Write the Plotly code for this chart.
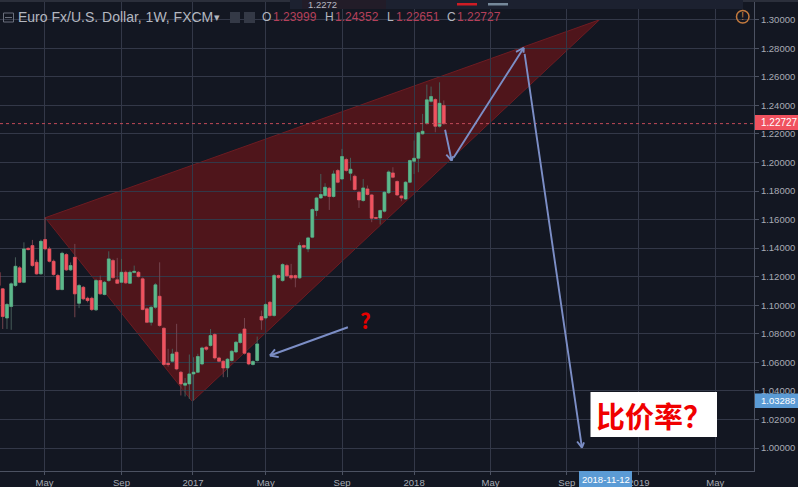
import numpy as np
import pandas as pd
import plotly.graph_objects as go

# weekly EURUSD candles
opens = [1.1231, 1.1115, 1.0911, 1.0991, 1.1138, 1.1262, 1.1161, 1.1399, 1.1418, 1.1301,
         1.1220, 1.1460, 1.1395, 1.1308, 1.1208, 1.1110, 1.1355, 1.1248, 1.1336, 1.1014,
         1.1126, 1.1049, 1.1049, 1.0968, 1.1173, 1.1075, 1.1173, 1.1313, 1.1178, 1.1161,
         1.1231, 1.1154, 1.1229, 1.1231, 1.1185, 1.0975, 1.0881, 1.0986, 1.1063, 1.0839,
         1.0594, 1.0608, 1.0671, 1.0531, 1.0440, 1.0449, 1.0519, 1.0531, 1.0589, 1.0706,
         1.0718, 1.0795, 1.0631, 1.0608, 1.0561, 1.0613, 1.0673, 1.0739, 1.0834, 1.0664,
         1.0585, 1.0613, 1.0921, 1.0911, 1.1021, 1.0928, 1.1208, 1.1173, 1.1278, 1.1208,
         1.1208, 1.1192, 1.1419, 1.1395, 1.1477, 1.1664, 1.1752, 1.1769, 1.1820, 1.1762,
         1.1944, 1.1885, 1.2021, 1.1925, 1.1904, 1.1792, 1.1734, 1.1815, 1.1773, 1.1615,
         1.1612, 1.1659, 1.1788, 1.1927, 1.1867, 1.1766, 1.1745, 1.1862, 1.2009, 1.2030,
         1.2201, 1.2275, 1.2429, 1.2441, 1.2254, 1.23999]
highs = [1.1243, 1.1120, 1.1015, 1.1160, 1.1336, 1.1275, 1.1441, 1.1405, 1.1458, 1.1320,
         1.1460, 1.1616, 1.1410, 1.1320, 1.1220, 1.1375, 1.1365, 1.1300, 1.1430, 1.1150,
         1.1135, 1.1060, 1.1060, 1.1185, 1.1208, 1.1170, 1.1378, 1.1325, 1.1332, 1.1325,
         1.1243, 1.1243, 1.1278, 1.1240, 1.1195, 1.0985, 1.0995, 1.1155, 1.1301, 1.0845,
         1.0695, 1.0695, 1.0870, 1.0540, 1.0490, 1.0655, 1.0636, 1.0660, 1.0710, 1.0715,
         1.0834, 1.0805, 1.0640, 1.0615, 1.0630, 1.0685, 1.0750, 1.0810, 1.0911, 1.0670,
         1.0615, 1.0781, 1.0963, 1.1015, 1.1030, 1.1220, 1.1215, 1.1295, 1.1290, 1.1290,
         1.1215, 1.1441, 1.1425, 1.1480, 1.1680, 1.1760, 1.1920, 1.1855, 1.1830, 1.1944,
         1.1955, 1.2096, 1.2033, 1.2033, 1.1915, 1.1800, 1.1885, 1.1839, 1.1780, 1.1620,
         1.1670, 1.1800, 1.1945, 1.1967, 1.1875, 1.1775, 1.1870, 1.2020, 1.2154, 1.2215,
         1.2341, 1.2546, 1.2532, 1.2450, 1.2562, 1.24352]
lows = [1.1115, 1.0834, 1.0834, 1.0828, 1.1130, 1.1155, 1.1155, 1.1385, 1.1270, 1.1215,
        1.1215, 1.1385, 1.1300, 1.1208, 1.1105, 1.1105, 1.1240, 1.1240, 1.0916, 1.0980,
        1.1035, 1.1020, 1.0960, 1.0960, 1.1075, 1.1070, 1.1165, 1.1185, 1.1150, 1.1155,
        1.1150, 1.1150, 1.1225, 1.1195, 1.0965, 1.0875, 1.0858, 1.0975, 1.0850, 1.0578,
        1.0570, 1.0600, 1.0545, 1.0368, 1.0361, 1.0344, 1.0333, 1.0525, 1.0580, 1.0680,
        1.0710, 1.0620, 1.0600, 1.0496, 1.0496, 1.0605, 1.0665, 1.0730, 1.0655, 1.0580,
        1.0578, 1.0605, 1.0828, 1.0900, 1.0920, 1.0920, 1.1185, 1.1165, 1.1200, 1.1180,
        1.1126, 1.1185, 1.1400, 1.1372, 1.1470, 1.1624, 1.1745, 1.1760, 1.1668, 1.1755,
        1.1855, 1.1878, 1.1935, 1.1874, 1.1805, 1.1682, 1.1725, 1.1770, 1.1582, 1.1605,
        1.1566, 1.1650, 1.1780, 1.1890, 1.1765, 1.1729, 1.1738, 1.1855, 1.1920, 1.1932,
        1.2195, 1.2265, 1.2420, 1.2212, 1.2245, 1.22651]
closes = [1.1138, 1.0921, 1.1005, 1.1150, 1.1273, 1.1161, 1.1395, 1.1390, 1.1278, 1.1220,
          1.1448, 1.1395, 1.1308, 1.1215, 1.1110, 1.1364, 1.1248, 1.1278, 1.1080, 1.1138,
          1.1045, 1.1033, 1.0970, 1.1173, 1.1080, 1.1161, 1.1325, 1.1194, 1.1154, 1.1231,
          1.1157, 1.1231, 1.1238, 1.1201, 1.0970, 1.0881, 1.0986, 1.1143, 1.0858, 1.0585,
          1.0585, 1.0659, 1.0554, 1.0449, 1.0454, 1.0519, 1.0531, 1.0641, 1.0701, 1.0692,
          1.0788, 1.0631, 1.0608, 1.0561, 1.0622, 1.0678, 1.0741, 1.0799, 1.0664, 1.0589,
          1.0606, 1.0729, 1.0897, 1.1005, 1.0928, 1.1208, 1.1194, 1.1285, 1.1206, 1.1192,
          1.1192, 1.1418, 1.1407, 1.1472, 1.1671, 1.1752, 1.1776, 1.1827, 1.1762, 1.1920,
          1.1862, 1.2042, 1.1944, 1.1953, 1.1811, 1.1738, 1.1822, 1.1776, 1.1610, 1.1610,
          1.1664, 1.1792, 1.1934, 1.1897, 1.1773, 1.1752, 1.1862, 1.2014, 1.2030, 1.2208,
          1.2219, 1.2439, 1.2462, 1.2254, 1.2415, 1.22727]
dates = pd.date_range(end="2018-02-19", periods=len(opens), freq="7D")

tick_dates = ["2016-05-01", "2016-09-05", "2017-01-01", "2017-05-01", "2017-09-04",
              "2018-01-01", "2018-05-07", "2018-09-10", "2019-01-07", "2019-05-13"]
tick_labels = ["May", "Sep", "2017", "May", "Sep", "2018", "May", "Sep", "2019", "May"]
price_ticks = [1.00 + 0.02 * i for i in range(16)]

wedge_dates = ["2016-05-02", "2018-11-03", "2016-12-31"]
wedge_prices = [1.1613, 1.3000, 1.0326]

# (tail, tip) of the hand drawn arrows
arrows = [
    (("2017-09-17", 1.0851), ("2017-05-08", 1.0648)),
    (("2018-02-19", 1.2272), ("2018-03-04", 1.2013)),
    (("2018-03-04", 1.2013), ("2018-07-01", 1.2804)),
    (("2018-07-01", 1.2804), ("2018-10-05", 1.0003)),
]

last_price = 1.22727
cross_price = 1.03288
cross_date = "2018-11-12"

BG = "#131722"
GRID = "#333848"
AXIS = "#4c5262"
TEXT = "#a8abb5"
GREEN = "#5cb98b"
RED = "#f0525f"
ARROW = "#7c8ec6"
FONT = "Liberation Sans"

W, H = 798, 487
PW, PH = 754, 471
x_range = ["2016-02-17 12:00", "2019-07-16"]
y_range = [1.0 - 23 / 1428, 1.30 + 19.8 / 1428]


def px(x):
    return x / PW


def py(y):
    return 1 - y / PH


def to_pixels(date, price):
    t0, t1 = pd.Timestamp(x_range[0]), pd.Timestamp(x_range[1])
    x = (pd.Timestamp(date) - t0) / (t1 - t0) * PW
    y = (y_range[1] - price) / (y_range[1] - y_range[0]) * PH
    return x, y


fig = go.Figure()

# wicks are dim in the original so they get their own trace under the bodies
fig.add_trace(go.Candlestick(x=dates, open=opens, high=highs, low=lows, close=closes,
                             whiskerwidth=0,
                             increasing=dict(line=dict(color="#465c58", width=1), fillcolor="#465c58"),
                             decreasing=dict(line=dict(color="#74434d", width=1), fillcolor="#74434d")))
body_top = np.maximum(opens, closes)
body_bottom = np.minimum(opens, closes)
fig.add_trace(go.Candlestick(x=dates, open=opens, high=body_top, low=body_bottom, close=closes,
                             whiskerwidth=0,
                             increasing=dict(line=dict(color=GREEN, width=0.5), fillcolor=GREEN),
                             decreasing=dict(line=dict(color=RED, width=0.5), fillcolor=RED)))

# scatter traces sit above boxes, so the wedge has to be a shape under the traces
wedge_path = "M " + " L ".join(f"{d},{p}" for d, p in zip(wedge_dates, wedge_prices)) + " Z"

shapes = [
    dict(type="path", xref="x", yref="y", path=wedge_path, layer="below",
         fillcolor="rgba(120,20,24,0.6)", line=dict(color="#6d1c22", width=1)),
    dict(type="line", xref="paper", x0=0, x1=1, yref="y", y0=last_price, y1=last_price,
         line=dict(color="#c04a58", width=1, dash="dot")),
    # top strip and the clipped toolbar box
    dict(type="rect", xref="paper", yref="paper", x0=0, x1=px(W), y0=py(2), y1=py(0),
         fillcolor="#2b2f3b", line_width=0),
    dict(type="rect", xref="paper", yref="paper", x0=px(290), x1=px(743), y0=py(9), y1=py(0),
         fillcolor="#1c2130", line_width=0),
    dict(type="rect", xref="paper", yref="paper", x0=px(302), x1=px(386), y0=py(9), y1=py(0),
         fillcolor="#221c28", line_width=0),
    dict(type="rect", xref="paper", yref="paper", x0=px(457), x1=px(477), y0=py(5.5), y1=py(3),
         fillcolor="#d01c24", line_width=0),
    dict(type="rect", xref="paper", yref="paper", x0=px(488), x1=px(508), y0=py(5.5), y1=py(3),
         fillcolor="#75889a", line_width=0),
    # header icons
    dict(type="rect", xref="paper", yref="paper", x0=px(3.5), x1=px(13.5), y0=py(22), y1=py(13),
         line=dict(color="#6a6f7c", width=1)),
    dict(type="line", xref="paper", yref="paper", x0=px(5), x1=px(12), y0=py(17.5), y1=py(17.5),
         line=dict(color="#6a6f7c", width=1)),
    dict(type="rect", xref="paper", yref="paper", x0=px(230), x1=px(240), y0=py(23), y1=py(12),
         fillcolor="#343946", line_width=0),
    dict(type="rect", xref="paper", yref="paper", x0=px(244), x1=px(255), y0=py(23), y1=py(12),
         fillcolor="#343946", line_width=0),
    # warning icon
    dict(type="circle", xref="paper", yref="paper", x0=px(736.5), x1=px(749), y0=py(23), y1=py(10.5),
         line=dict(color="#c47a3e", width=1.5)),
    # white note
    dict(type="rect", xref="paper", yref="paper", x0=px(590.5), x1=px(717), y0=py(437), y1=py(392),
         fillcolor="white", line_width=0),
    # right scale labels
    dict(type="rect", xref="paper", yref="paper", x0=px(755), x1=px(W), y0=py(130), y1=py(115),
         fillcolor=RED, line_width=0),
    dict(type="rect", xref="paper", yref="paper", x0=px(755), x1=px(W), y0=py(408), y1=py(393.5),
         fillcolor="#5b9bd5", line_width=0),
    dict(type="rect", xref="paper", yref="paper", x0=px(579), x1=px(632), y0=py(H), y1=py(471),
         fillcolor="#5b9bd5", line_width=0),
]


def label(x, y, text, color=TEXT, size=9.5, anchor="left", family=FONT):
    return dict(xref="paper", yref="paper", x=px(x), y=py(y), text=text, showarrow=False,
                xanchor=anchor, yanchor="middle", borderpad=0,
                font=dict(family=family, size=size, color=color))


annotations = [
    label(17, 17.5, "Euro Fx/U.S. Dollar, 1W, FXCM", color="#b4b7c0", size=14),
    label(213, 17, "▾", color="#b4b7c0", size=11),
    label(322, 4.5, "1.2272", color="#b4b7c0", size=9.5, anchor="center"),
    label(261, 17.5, "O", color="#b4b7c0", size=12),
    label(272, 17.5, "1.23999", color="#b5405a", size=12),
    label(324, 17.5, "H", color="#b4b7c0", size=12),
    label(334, 17.5, "1.24352", color="#b5405a", size=12),
    label(386, 17.5, "L", color="#b4b7c0", size=12),
    label(395, 17.5, "1.22651", color="#b5405a", size=12),
    label(446, 17.5, "C", color="#b4b7c0", size=12),
    label(456, 17.5, "1.22727", color="#b5405a", size=12),
    label(742.7, 16.5, "!", color="#c47a3e", size=11, anchor="center"),
    label(365, 320, "<b>?</b>", color="#e60000", size=21, anchor="center", family="Noto Sans CJK SC"),
    label(654, 415, "<b>比价率？</b>", color="#f00000", size=29, anchor="center", family="Noto Sans CJK SC"),
    label(760, 122.5, f"{last_price:.5f}", color="white", size=10),
    label(760, 400.5, f"{cross_price:.5f}", color="white", size=9.5),
    label(605.5, 479.5, cross_date, color="white", size=9.5, anchor="center"),
]

for (tail_date, tail_price), (tip_date, tip_price) in arrows:
    annotations.append(dict(x=tip_date, y=tip_price, ax=tail_date, ay=tail_price,
                            xref="x", yref="y", axref="x", ayref="y", text=" ", borderpad=0,
                            showarrow=True, arrowhead=0, arrowwidth=1.9, arrowcolor=ARROW))
    tx, ty = to_pixels(tail_date, tail_price)
    hx, hy = to_pixels(tip_date, tip_price)
    angle = np.arctan2(ty - hy, tx - hx)
    for side in (-1, 1):
        a = angle + side * np.radians(30)
        annotations.append(dict(x=tip_date, y=tip_price, xref="x", yref="y",
                                ax=float(11 * np.cos(a)), ay=float(11 * np.sin(a)),
                                text=" ", borderpad=0, showarrow=True, arrowhead=0,
                                arrowwidth=1.9, arrowcolor=ARROW))

fig.update_layout(
    width=W, height=H,
    margin=dict(l=0, r=W - PW, t=0, b=H - PH),
    paper_bgcolor=BG, plot_bgcolor=BG,
    showlegend=False,
    boxmode="overlay",
    boxgap=0.05,
    shapes=shapes,
    annotations=annotations,
    font=dict(family=FONT, size=9.5, color=TEXT),
)
fig.update_xaxes(range=x_range, rangeslider_visible=False, tickmode="array",
                 tickvals=tick_dates, ticktext=tick_labels, showgrid=True, gridcolor=GRID,
                 gridwidth=1, showline=True, linecolor=AXIS, ticks="outside", ticklen=3,
                 tickcolor=AXIS, zeroline=False, tickfont=dict(size=9.5, color=TEXT))
fig.update_yaxes(range=y_range, side="right", tickmode="array", tickvals=price_ticks,
                 tickformat=".5f", showgrid=True, gridcolor=GRID, gridwidth=1, showline=True,
                 linecolor=AXIS, ticks="outside", ticklen=4, tickcolor=AXIS, zeroline=False,
                 tickfont=dict(size=9.5, color=TEXT))

fig.write_html("out.html", config=dict(displayModeBar=False),
               post_script="document.body.style.margin='0';")
